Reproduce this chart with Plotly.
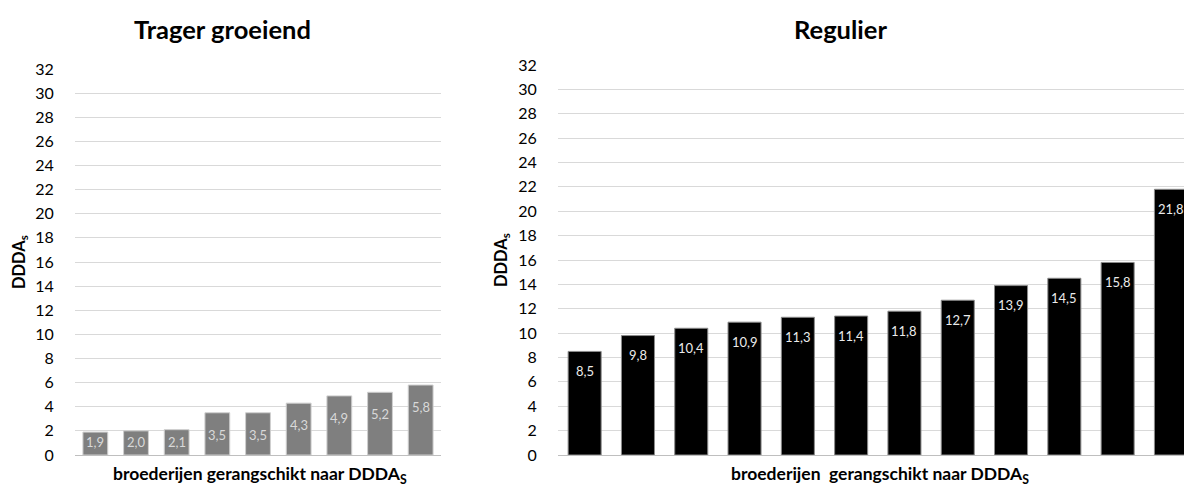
import plotly.graph_objects as go

# Hatcheries ranked by DDDA_S
slow_values = [1.9, 2.0, 2.1, 3.5, 3.5, 4.3, 4.9, 5.2, 5.8]
reg_values = [8.5, 9.8, 10.4, 10.9, 11.3, 11.4, 11.8, 12.7, 13.9, 14.5, 15.8, 21.8]
y_ticks = list(range(0, 33, 2))

FONT = "Lato"
W, H = 1184, 488


def px_x(p):
    return p / W


def px_y(p):
    return 1 - p / H


# plot areas in pixels: (left, right, top of 32, baseline)
LEFT_BOX = (75, 441, 69, 455)
RIGHT_BOX = (558, 1184, 65, 455)
RIGHT_SLOT = 53.3  # pixel width of one category on the right panel


def fmt(v):
    return f"{v:.1f}".replace(".", ",")


fig = go.Figure()

fig.add_trace(go.Bar(
    x=list(range(len(slow_values))), y=slow_values, width=0.61,
    marker=dict(color="#7f7f7f", line=dict(color="#cfcfcf", width=1)),
    xaxis="x", yaxis="y", hoverinfo="skip",
))
fig.add_trace(go.Bar(
    x=list(range(len(reg_values))), y=reg_values, width=0.62,
    marker=dict(color="#000000", line=dict(color="#8c8c8c", width=1)),
    xaxis="x2", yaxis="y2", hoverinfo="skip",
))

common_y = dict(
    range=[0, 32], tickvals=y_ticks, showgrid=True, gridcolor="#d9d9d9", gridwidth=1,
    zeroline=False, showline=False, ticks="outside", ticklen=17,
    tickcolor="rgba(0,0,0,0)", automargin=False,
    tickfont=dict(family=FONT, size=16, color="#000000"), fixedrange=True,
)
common_x = dict(
    showticklabels=False, showgrid=False, zeroline=False, showline=True,
    linecolor="#bfbfbf", linewidth=1, ticks="", automargin=False, fixedrange=True,
)

right_max = 11.5 - (RIGHT_BOX[0] + 12 * RIGHT_SLOT - W) / RIGHT_SLOT

fig.update_layout(
    template="none",
    width=W, height=H,
    margin=dict(l=0, r=0, t=0, b=0, pad=0),
    paper_bgcolor="white", plot_bgcolor="white",
    showlegend=False,
    font=dict(family=FONT, color="#000000"),
    xaxis=dict(domain=[px_x(LEFT_BOX[0]), px_x(LEFT_BOX[1])], range=[-0.5, 8.5],
               anchor="y", **common_x),
    yaxis=dict(domain=[px_y(LEFT_BOX[3]), px_y(LEFT_BOX[2])], anchor="x", **common_y),
    xaxis2=dict(domain=[px_x(RIGHT_BOX[0]), 1.0], range=[-0.5, right_max],
                anchor="y2", **common_x),
    yaxis2=dict(domain=[px_y(RIGHT_BOX[3]), px_y(RIGHT_BOX[2])], anchor="x2", **common_y),
)

annotations = []


def value_labels(values, xref, yref, box, color, drop):
    scale = (box[3] - box[2]) / 32.0
    for i, v in enumerate(values):
        h = v * scale
        shift = min(drop, h - 13)
        annotations.append(dict(
            text=fmt(v), x=i, y=v, xref=xref, yref=yref, yshift=-shift,
            showarrow=False, xanchor="center", yanchor="middle",
            font=dict(family=FONT, size=13, color=color),
        ))


value_labels(slow_values, "x", "y", LEFT_BOX, "#d9d9d9", 22)
value_labels(reg_values, "x2", "y2", RIGHT_BOX, "#ebebeb", 19.5)

titles = [
    dict(text="<b>Trager groeiend</b>", x=px_x(222), y=px_y(29), font=dict(size=25.5)),
    dict(text="<b>Regulier</b>", x=px_x(840), y=px_y(29), font=dict(size=25.5)),
    dict(text="<b>broederijen gerangschikt naar DDDA<sub>S</sub></b>", x=px_x(260),
         y=px_y(475), font=dict(size=17.5)),
    dict(text="<b>broederijen  gerangschikt naar DDDA<sub>S</sub></b>", x=px_x(880),
         y=px_y(475), font=dict(size=17.5)),
    dict(text="<b>DDDA<sub>s</sub></b>", x=px_x(19), y=px_y(262), textangle=-90,
         font=dict(size=16.5)),
    dict(text="<b>DDDA<sub>s</sub></b>", x=px_x(501), y=px_y(260), textangle=-90,
         font=dict(size=16.5)),
]
for a in titles:
    a.update(xref="paper", yref="paper", showarrow=False, xanchor="center",
             yanchor="middle")
    a["font"].update(family=FONT, color="#000000")
    annotations.append(a)

fig.update_layout(annotations=annotations)

fig.write_html("out.html")
